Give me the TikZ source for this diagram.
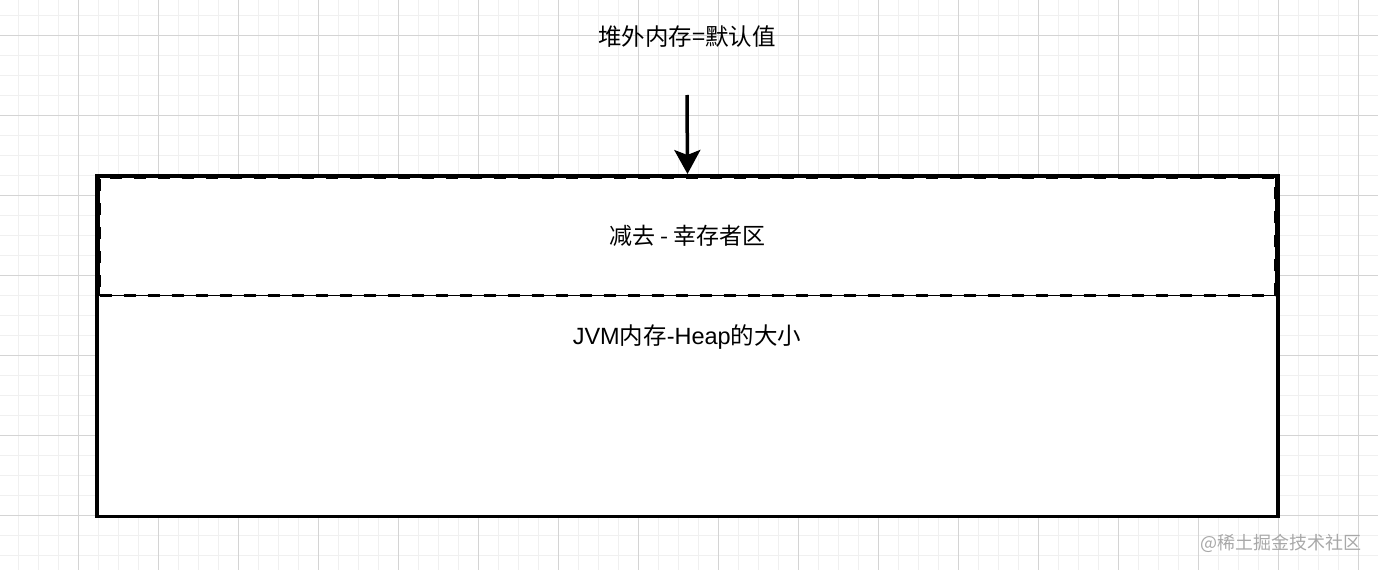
\documentclass[tikz,border=0pt]{standalone}
\usepackage{fontspec}
\setmainfont{Liberation Sans}
\newfontfamily\cjk{Noto Sans CJK SC}
\usepackage{tikz}
\usetikzlibrary{positioning}
\usetikzlibrary{arrows.meta}
\definecolor{gridminor}{HTML}{F0F0F0}
\definecolor{gridmajor}{HTML}{D4D4D4}
\definecolor{markgray}{HTML}{A8A8A8}
\tikzset{%
  grid minor/.style={
    draw=gridminor,
    line width=1pt
  },
  grid major/.style={
    draw=gridmajor,
    line width=1pt
  },
  heap box/.style={
    rectangle,
    draw,
    fill=white,
    line width=3.2pt,
    minimum width=1181pt,
    minimum height=341pt
  },
  survivor box/.style={
    rectangle,
    draw,
    line width=1.5pt,
    minimum width=1176pt,
    minimum height=118pt,
    font=\fontsize{23}{27}\selectfont\cjk,
    postaction={draw, line width=3.2pt, dash pattern=on 12pt off 12pt}
  },
  caption/.style={
    inner sep=0pt,
    font=\fontsize{23.5}{28}\selectfont
  },
  watermark/.style={
    inner sep=0pt,
    text=markgray,
    font=\fontsize{18}{22}\selectfont\cjk
  },
}

\begin{document}
\begin{tikzpicture}[x=1pt, y=-1pt, > = {Stealth[length=24pt, width=26pt, inset=5pt]}]
\useasboundingbox (0,0) rectangle (1378,570);
% background grid
\foreach \x in {18,38,...,1378}
    \draw[grid minor] (\x,0) -- (\x,570);
\foreach \y in {15,35,...,570}
    \draw[grid minor] (0,\y) -- (1378,\y);
\foreach \x in {78,158,...,1378}
    \draw[grid major] (\x,0) -- (\x,570);
\foreach \y in {35,115,...,570}
    \draw[grid major] (0,\y) -- (1378,\y);

\node[heap box, anchor=north] (heap) at (687.5,174) {};
\node[survivor box, anchor=north] (survivor) at (687.5,176.5) {减去 - 幸存者区};
\node[caption] (heaplabel) at (687,337) {JVM{\cjk 内存}-Heap{\cjk 的大小}};

\node[caption, font=\fontsize{23.5}{28}\selectfont\cjk] (offheap) at (687,37) {堆外内存=默认值};
\coordinate (arrowstart) at (687,95);
\draw[line width=3.5pt, ->] (arrowstart) -- (heap.north);

\node[watermark] (mark) at (1281,543) {@稀土掘金技术社区};
\end{tikzpicture}
\end{document}
